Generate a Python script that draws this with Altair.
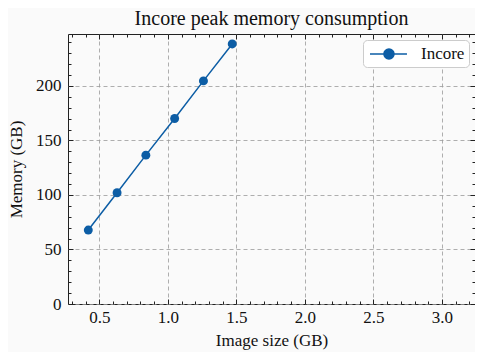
import altair as alt
import pandas as pd

# ---- data ----
image_size = [0.42, 0.63, 0.84, 1.05, 1.26, 1.47]
memory = [67.8, 102.0, 136.5, 170.1, 204.6, 238.5]
series = ["Incore", "Incore", "Incore", "Incore", "Incore", "Incore"]

x_major = [0.5, 1.0, 1.5, 2.0, 2.5, 3.0]
x_minor = [0.3, 0.4, 0.6, 0.7, 0.8, 0.9, 1.1, 1.2, 1.3, 1.4, 1.6, 1.7, 1.8, 1.9,
           2.1, 2.2, 2.3, 2.4, 2.6, 2.7, 2.8, 2.9, 3.1, 3.2]
y_major = [0, 50, 100, 150, 200]
y_minor = [10, 20, 30, 40, 60, 70, 80, 90, 110, 120, 130, 140, 160, 170, 180, 190,
           210, 220, 230, 240]

x_domain = [0.272, 3.241]
y_domain = [0, 247.6]

df = pd.DataFrame({"size": image_size, "mem": memory, "series": series})

FONT = "Liberation Serif"
INK = "#222222"
BLUE = "#0C5DA5"


def xenc(axis):
    return alt.X("size:Q", scale=alt.Scale(domain=x_domain, nice=False, zero=False), axis=axis)


def yenc(axis):
    return alt.Y("mem:Q", scale=alt.Scale(domain=y_domain, nice=False, zero=False), axis=axis)


def tick_axis(orient, values, size, labels=False, title=None, **kw):
    return alt.Axis(
        orient=orient, values=values, offset=-size, tickSize=size, tickColor=INK,
        tickWidth=1, domain=False, grid=False, labels=labels, title=title, zindex=2,
        labelFont=FONT, labelFontSize=17, labelColor="#111111", labelFlush=False,
        labelOverlap=False, labelBound=False,
        titleFont=FONT, titleFontSize=17, titleFontWeight="normal", titleColor="#111111",
        **kw,
    )


grid_kw = dict(grid=True, gridDash=[4, 3], gridColor="#9a9a9a", gridWidth=0.8,
               ticks=False, labels=False, domain=False, title=None, zindex=0)

legend_path = "M-0.78,0L3.33,0M0.77,0A0.56,0.56,0,1,0,1.89,0A0.56,0.56,0,1,0,0.77,0Z"

color = alt.Color(
    "series:N",
    scale=alt.Scale(domain=["Incore"], range=[BLUE]),
    legend=alt.Legend(
        title=None, orient="top-right", offset=6, padding=4,
        fillColor="#ffffff", strokeColor="#cccccc", cornerRadius=4,
        symbolType=legend_path, symbolSize=324, symbolStrokeWidth=1.5,
        symbolFillColor=BLUE, symbolStrokeColor=BLUE,
        labelFont=FONT, labelFontSize=17, labelColor="#111111", labelOffset=34,
    ),
)

line = alt.Chart(df).mark_line(strokeWidth=1.5).encode(
    x=xenc(alt.Axis(orient="bottom", values=x_major, **grid_kw)),
    y=yenc(alt.Axis(orient="left", values=y_major, **grid_kw)),
    color=color,
)
points = alt.Chart(df).mark_point(filled=True, size=80, opacity=1).encode(
    x=xenc(None), y=yenc(None), color=alt.Color("series:N", legend=None,
                                                   scale=alt.Scale(domain=["Incore"], range=[BLUE])),
)

ghost = alt.Chart(df).mark_point(opacity=0)

l_major = ghost.encode(
    x=xenc(tick_axis("bottom", x_major, 5, labels=True, title="Image size (GB)",
                     labelPadding=5, titlePadding=7)),
    y=yenc(tick_axis("left", y_major, 5, labels=True, title="Memory (GB)",
                     labelPadding=7, titlePadding=10)),
)
l_minor = ghost.encode(
    x=xenc(tick_axis("bottom", x_minor, 3)),
    y=yenc(tick_axis("left", y_minor, 3)),
)
r_major = ghost.encode(
    x=xenc(tick_axis("top", x_major, 5)),
    y=yenc(tick_axis("right", y_major, 5)),
)
r_minor = ghost.encode(
    x=xenc(tick_axis("top", x_minor, 3)),
    y=yenc(tick_axis("right", y_minor, 3)),
)

chart = alt.layer(line, points, l_major, l_minor, r_major, r_minor).resolve_axis(
    x="independent", y="independent"
).properties(
    width=407, height=270,
    title=alt.TitleParams("Incore peak memory consumption", font=FONT, fontSize=20,
                          fontWeight="normal", color="#111111", anchor="middle", offset=5),
    autosize=alt.AutoSizeParams(type="none"),
    padding={"left": 60, "top": 26, "right": 0, "bottom": 52},
    background="#fafafa",
).configure_view(stroke=INK, strokeWidth=1)

chart.save("out.html", embed_options={"renderer": "svg", "actions": False})
